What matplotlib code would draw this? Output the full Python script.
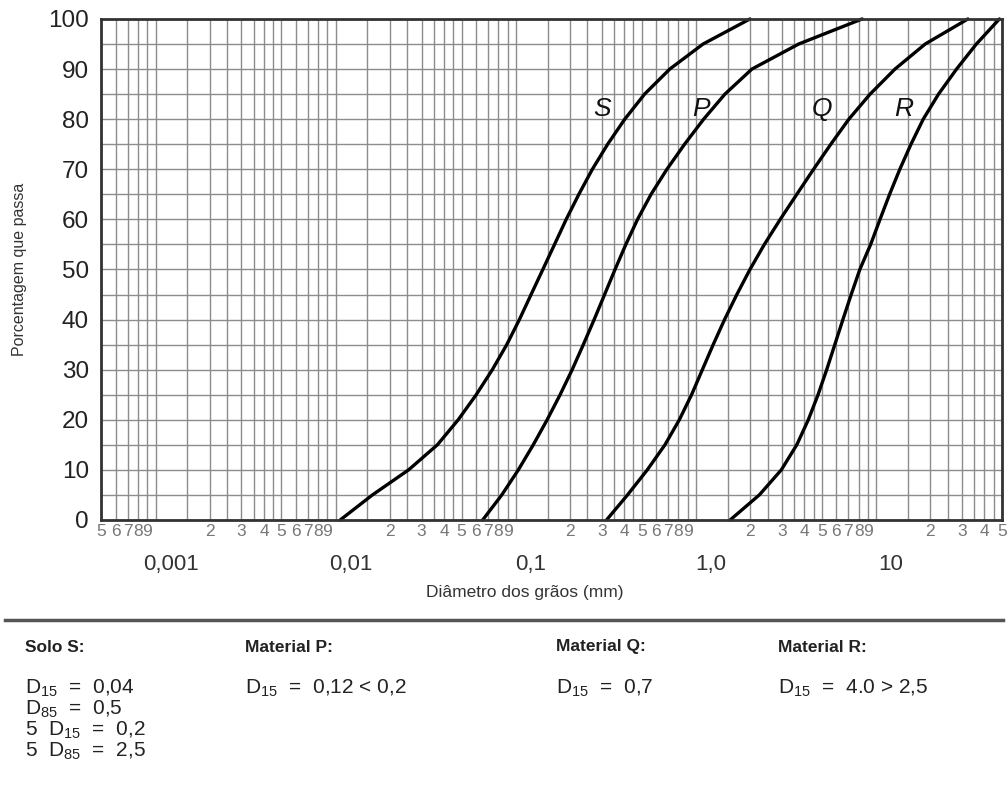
import matplotlib
matplotlib.use("Agg")
import matplotlib.pyplot as plt
from matplotlib import font_manager
from matplotlib.lines import Line2D
from matplotlib.transforms import offset_copy

# fonts
names = {f.name for f in font_manager.fontManager.ttflist}
base_font = "Liberation Sans"
narrow_font = "Liberation Sans Narrow" if "Liberation Sans Narrow" in names else base_font
plt.rcParams["font.family"] = [base_font, "DejaVu Sans"]
plt.rcParams["mathtext.fontset"] = "custom"
plt.rcParams["mathtext.rm"] = narrow_font
plt.rcParams["mathtext.it"] = narrow_font + ":italic"

# percent passing (y) and grain diameters in mm (x)
pct = [0, 5, 10, 15, 20, 25, 30, 35, 40, 45, 50, 55, 60, 65, 70, 75, 80, 85, 90, 95, 100]
d_S = [0.0106, 0.0160, 0.0254, 0.0367, 0.0479, 0.0603, 0.0741, 0.0891, 0.1047, 0.1216, 0.1413,
       0.1641, 0.1905, 0.2239, 0.2661, 0.3236, 0.4027, 0.5188, 0.7161, 1.096, 1.995]
d_P = [0.0655, 0.0836, 0.1033, 0.1250, 0.1493, 0.1762, 0.2056, 0.2371, 0.2723, 0.3112, 0.3556,
       0.4083, 0.4742, 0.5636, 0.6902, 0.8650, 1.104, 1.449, 2.046, 3.72, 8.37]
d_Q = [0.319, 0.417, 0.537, 0.673, 0.809, 0.946, 1.086, 1.247, 1.442, 1.687, 1.995,
       2.399, 2.938, 3.631, 4.498, 5.610, 7.063, 9.268, 12.74, 18.75, 32.36]
d_R = [1.549, 2.249, 2.979, 3.631, 4.207, 4.764, 5.321, 5.902, 6.546, 7.278, 8.128,
       9.333, 10.52, 11.89, 13.55, 15.63, 18.28, 22.23, 27.99, 36.06, 48.4]

decades = [0.001, 0.01, 0.1, 1.0, 10.0]
decade_labels = ["0,001", "0,01", "0,1", "1,0", "10"]
grid_steps = [1, 1.5, 2, 2.5, 3, 3.5, 4, 4.5, 5, 6, 7, 8, 9]
digit_steps = [2, 3, 4, 5, 6, 7, 8, 9]
x_min, x_max = 0.0005, 50

fig = plt.figure(figsize=(10.08, 7.9), dpi=100)
ax = fig.add_axes([0.1005, 0.3418, 0.8935, 0.6342])
ax.set_xscale("log")
ax.set_xlim(x_min, x_max)
ax.set_ylim(0, 100)

# vertical grid lines
vgrid = [m * 0.0001 for m in [6, 7, 8, 9]]
for dec in decades:
    vgrid += [s * dec for s in grid_steps if s * dec < x_max]
ax.set_xticks(vgrid, minor=True)
ax.xaxis.set_minor_formatter(plt.NullFormatter())

# small digit labels along the axis
digit_pos = [m * 0.0001 for m in [5, 6, 7, 8, 9]]
digit_txt = [str(m) for m in [5, 6, 7, 8, 9]]
for dec in decades:
    for s in digit_steps:
        if s * dec <= x_max:
            digit_pos.append(s * dec)
            digit_txt.append(str(s))
ax.set_xticks(digit_pos)
ax.set_xticklabels(digit_txt, fontsize=12.5, color="#777777")
ax.tick_params(axis="x", which="both", length=0, pad=3)

ax.set_yticks(range(0, 101, 10))
ax.set_yticks(range(5, 100, 10), minor=True)
ax.tick_params(axis="y", which="both", length=0, pad=9, labelsize=17.5, labelcolor="#222222")

ax.grid(True, which="both", color="#8c8c8c", linewidth=1.0)
ax.set_axisbelow(True)
for sp in ax.spines.values():
    sp.set_linewidth(2.0)
    sp.set_color("#333333")

# decade labels below the digits
dec_tr = offset_copy(ax.get_xaxis_transform(), fig=fig, x=15, y=-45, units="dots")
for dec, lab in zip(decades, decade_labels):
    ax.text(dec, 0, lab, transform=dec_tr, ha="center", va="center",
            fontsize=16, color="#333333")

# curves
for d in [d_S, d_P, d_Q, d_R]:
    ax.plot(d, pct, color="black", linewidth=2.4, solid_joinstyle="round",
            solid_capstyle="round", clip_on=False)

for x, lab in [(0.30, "S"), (1.07, "P"), (5.02, "Q"), (14.3, "R")]:
    ax.text(x, 82, lab, fontsize=19, style="italic", ha="center", va="center", color="#111111")

ax.set_ylabel("Porcentagem que passa", fontsize=11.5, color="#333333")
ax.yaxis.set_label_coords(-0.082, 0.5)
fig.text(525 / 1008, 1 - 592 / 790, "Diâmetro dos grãos (mm)", ha="center", va="center",
         fontsize=12.5, color="#333333", family=[narrow_font, "DejaVu Sans"])

# separator rule
fig.add_artist(Line2D([5 / 1008, 1003 / 1008], [1 - 620 / 790, 1 - 620 / 790],
                      color="#555555", linewidth=2.5))

# notes under the chart
headers = ["Solo S:", "Material P:", "Material Q:", "Material R:"]
col_x = [25, 245, 556, 778]
notes = [
    [r"D$_{15}$  =  0,04", r"D$_{85}$  =  0,5", r"5  D$_{15}$  =  0,2", r"5  D$_{85}$  =  2,5"],
    [r"D$_{15}$  =  0,12 < 0,2"],
    [r"D$_{15}$  =  0,7"],
    [r"D$_{15}$  =  4.0 > 2,5"],
]
row_y = [688, 709, 730, 751]
for cx, head, lines in zip(col_x, headers, notes):
    fig.text(cx / 1008, 1 - 647 / 790, head, ha="left", va="center", fontsize=12.5,
             fontweight="bold", color="#222222", family=[narrow_font, "DejaVu Sans"])
    for ry, line in zip(row_y, lines):
        fig.text(cx / 1008, 1 - ry / 790, line, ha="left", va="center", fontsize=15,
                 color="#222222", family=[narrow_font, "DejaVu Sans"])

fig.savefig("out.png", dpi=100)
